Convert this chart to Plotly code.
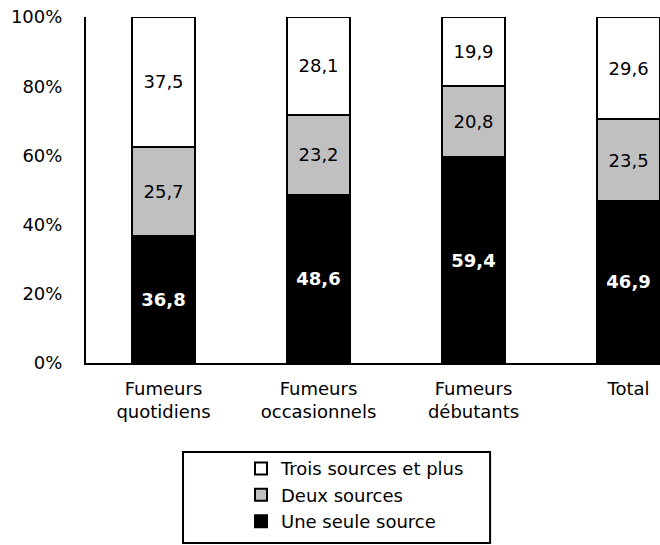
import plotly.graph_objects as go

# Répartition des fumeurs selon le nombre de sources d'approvisionnement (%)
categories = ["Fumeurs<br>quotidiens", "Fumeurs<br>occasionnels", "Fumeurs<br>débutants", "Total"]
une_seule_source = [36.8, 48.6, 59.4, 46.9]
deux_sources = [25.7, 23.2, 20.8, 23.5]
trois_sources_et_plus = [37.5, 28.1, 19.9, 29.6]

y_ticks = [0, 20, 40, 60, 80, 100]

FONT = "DejaVu Sans"

series = [
    ("Une seule source", une_seule_source, "#000000", "#ffffff", "bold"),
    ("Deux sources", deux_sources, "#c0c0c0", "#000000", "normal"),
    ("Trois sources et plus", trois_sources_et_plus, "#ffffff", "#000000", "normal"),
]

fig = go.Figure()
for name, values, fill, text_color, weight in series:
    fig.add_trace(go.Bar(
        name=name,
        x=list(range(len(categories))),
        y=values,
        width=0.41,
        marker=dict(color=fill, line=dict(color="#000000", width=2)),
        texttemplate="%{y:.1f}",
        textposition="inside",
        insidetextanchor="middle",
        textangle=0,
        insidetextfont=dict(family=FONT, size=18, color=text_color, weight=weight),
        hoverinfo="skip",
    ))

fig.update_layout(
    barmode="stack",
    width=660,
    height=545,
    margin=dict(l=86, r=0, t=17, b=182),
    paper_bgcolor="#ffffff",
    plot_bgcolor="#ffffff",
    separators=", ",
    font=dict(family=FONT, size=18, color="#000000"),
    uniformtext=dict(minsize=18, mode="show"),
    showlegend=True,
    legend=dict(
        traceorder="reversed",
        x=0.27, y=-0.252,
        xanchor="left", yanchor="top",
        bgcolor="rgba(0,0,0,0)",
        borderwidth=0,
        font=dict(family=FONT, size=18, color="#000000"),
    ),
    shapes=[dict(
        type="rect", xref="paper", yref="paper",
        x0=0.169, x1=0.704, y0=-0.52, y1=-0.257,
        line=dict(color="#000000", width=2),
        fillcolor="rgba(0,0,0,0)",
    )],
)

fig.update_xaxes(
    range=[-0.5, 3.203],
    tickvals=list(range(len(categories))),
    ticktext=categories,
    showline=True, linecolor="#000000", linewidth=2,
    showgrid=False, zeroline=False, ticks="",
    ticklabelstandoff=8,
    tickfont=dict(family=FONT, size=18, color="#000000"),
)
fig.update_yaxes(
    range=[0, 100],
    tickvals=y_ticks,
    ticktext=[f"{v}%" for v in y_ticks],
    showline=True, linecolor="#000000", linewidth=2,
    showgrid=False, zeroline=False, ticks="",
    ticklabelstandoff=18,
    tickfont=dict(family=FONT, size=18, color="#000000"),
)

fig.write_html("out.html")
